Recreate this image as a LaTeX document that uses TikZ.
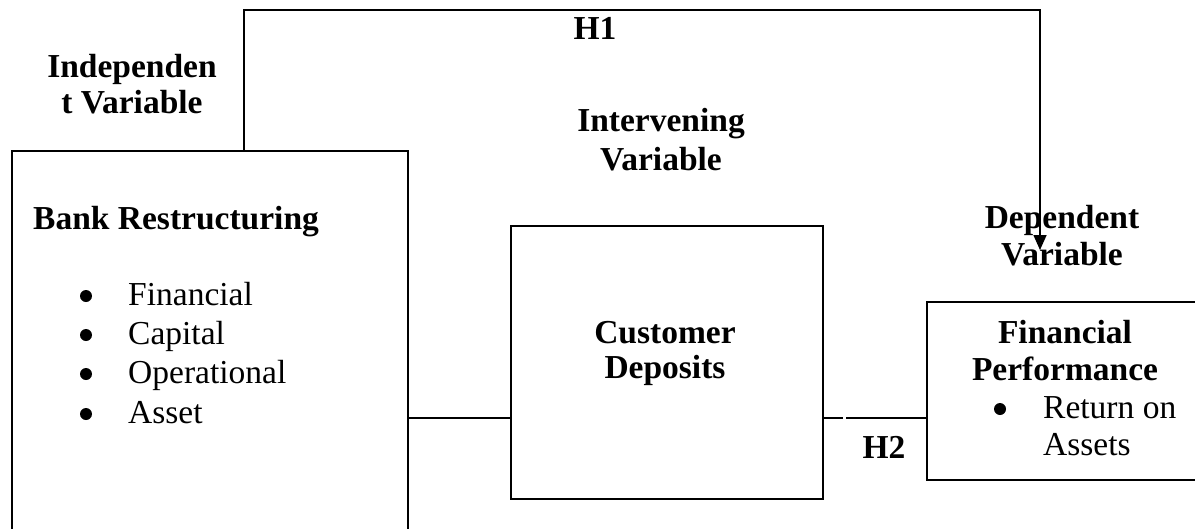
\documentclass[tikz,border=0pt]{standalone}
\usepackage{fontspec}
\setmainfont{Liberation Serif}
\usetikzlibrary{arrows.meta}
\tikzset{
  frame/.style={draw, line width=1.6pt, minimum width=#1, anchor=north west, inner sep=0pt},
  link/.style={line width=1.6pt},
  head/.style={font=\fontsize{33.5}{38}\selectfont\bfseries, anchor=base, inner sep=0pt},
  item/.style={font=\fontsize{33.5}{38}\selectfont, anchor=base west, inner sep=0pt},
  dot/.style={circle, fill=black, minimum size=12pt, inner sep=0pt}
}
\begin{document}
\begin{tikzpicture}[x=1pt, y=-1pt]
\useasboundingbox (0,0) rectangle (1195,528);

% boxes
\node[frame=396pt, minimum height=395pt] (bank) at (11,150) {};
\node[frame=312pt, minimum height=273pt] (dep) at (510,225) {};
\node[frame=280pt, minimum height=178pt] (perf) at (926,301) {};

% headings
\node[head] (iv1) at (132,77) {Independen};
\node[head] (iv2) at (132,113) {t Variable};
\node[head] (mv1) at (661,131) {Intervening};
\node[head] (mv2) at (661,170) {Variable};
\node[head] (dv1) at (1062,228) {Dependent};
\node[head] (dv2) at (1062,265) {Variable};
\node[head] (h1) at (595,39) {H1};
\node[head] (h2) at (884,458) {H2};

% bank restructuring
\node[head, anchor=base west] (bt) at (33,229) {Bank Restructuring};
\foreach \t/\y [count=\i] in {Financial/305, Capital/344, Operational/383, Asset/423} {
  \node[dot] (b\i) at (86,\y-9) {};
  \node[item] (i\i) at (128,\y) {\t};
}

% customer deposits
\node[head] (cd1) at (665,343) {Customer};
\node[head] (cd2) at (665,378) {Deposits};

% financial performance
\node[head] (fp1) at (1065,343) {Financial};
\node[head] (fp2) at (1065,380) {Performance};
\node[dot] (rb) at (1000,409) {};
\node[item] (r1) at (1043,418) {Return on};
\node[item] (r2) at (1043,455) {Assets};

% connectors
\coordinate (c1) at (244,10);
\coordinate (c2) at (1040,10);
\coordinate (tip) at (1040,250);
\draw[link, -{Triangle[length=15pt, width=13pt]}] (bank.north west -| c1) -- (c1) -- (c2) -- (tip);
\draw[link] (bank.east |- 0,418) -- (dep.west |- 0,418);
\coordinate (g1) at (843,418);
\coordinate (g2) at (846,418);
\draw[link] (dep.east |- g1) -- (g1);
\draw[link] (g2) -- (perf.west |- g2);
\end{tikzpicture}
\end{document}
